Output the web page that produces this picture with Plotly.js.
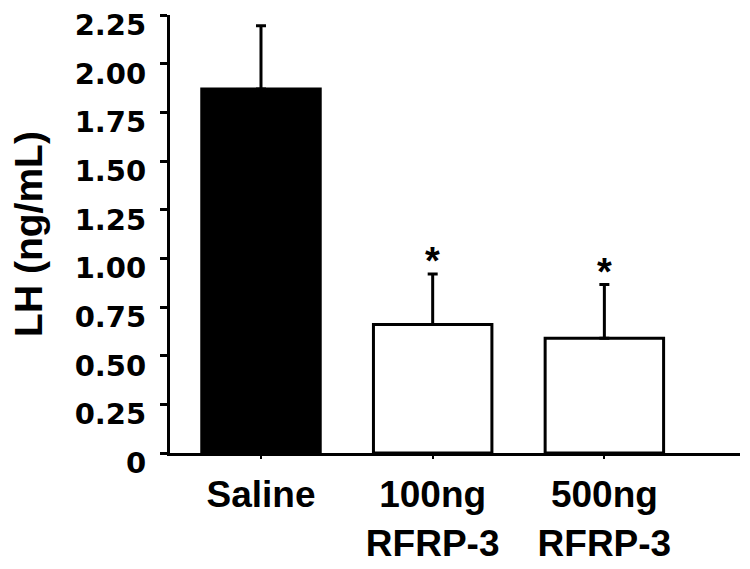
<!DOCTYPE html>
<html>
<head>
<meta charset="utf-8">
<script src="https://cdn.plot.ly/plotly-3.0.1.min.js"></script>
<style>
  body { margin: 0; background: #fff; }
  #plot { width: 750px; height: 569px; }
</style>
</head>
<body>
<div id="plot"></div>
<script>
// groups and LH values
let groups = ['Saline', '100ng<br>RFRP-3', '500ng<br>RFRP-3'];
let lhMean = [1.87, 0.66, 0.59];
let lhSem = [0.325, 0.26, 0.275];
let barColors = ['black', 'white', 'white'];
let sigMarks = ['', '*', '*']; // significance vs saline

let yTickVals = [0, 0.25, 0.5, 0.75, 1.0, 1.25, 1.5, 1.75, 2.0, 2.25];
let yTickText = ['0', '0.25', '0.50', '0.75', '1.00', '1.25', '1.50', '1.75', '2.00', '2.25'];

let bars = {
    x: groups,
    y: lhMean,
    type: 'bar',
    marker: {color: barColors, line: {color: 'black', width: 3}},
    error_y: {
        type: 'data',
        symmetric: false,
        array: lhSem,
        arrayminus: lhSem.map(() => 0),
        color: 'black',
        thickness: 3,
        width: 5
    },
    hoverinfo: 'x+y'
};

// asterisks sit just above the error bar caps
let stars = [];
for (let i = 0; i < groups.length; i++) {
    if (!sigMarks[i]) continue;
    stars.push({
        x: groups[i],
        y: lhMean[i] + lhSem[i],
        text: sigMarks[i],
        showarrow: false,
        yanchor: 'bottom',
        yshift: -10,
        font: {family: 'Liberation Sans', size: 38, color: 'black', weight: 'bold'}
    });
}

let layout = {
    width: 750,
    height: 569,
    margin: {l: 170, r: 10, t: 15, b: 116},
    paper_bgcolor: 'white',
    plot_bgcolor: 'white',
    showlegend: false,
    bargap: 0.31,
    font: {family: 'Liberation Sans', color: 'black'},
    xaxis: {
        type: 'category',
        range: [-0.53, 2.79],
        showline: true,
        linecolor: 'black',
        linewidth: 3,
        ticks: 'outside',
        ticklen: 3,
        tickwidth: 2,
        tickcolor: 'black',
        showgrid: false,
        zeroline: false,
        ticklabelstandoff: 4,
        tickfont: {family: 'Liberation Sans', size: 37, color: 'black', weight: 'bold'}
    },
    yaxis: {
        range: [0, 2.25],
        tickvals: yTickVals,
        ticktext: yTickText,
        ticklabeloverflow: 'allow',
        ticklabelshift: 10,
        showline: true,
        linecolor: 'black',
        linewidth: 3,
        ticks: 'outside',
        ticklen: 7,
        tickwidth: 3,
        tickcolor: 'black',
        showgrid: false,
        zeroline: false,
        ticklabelstandoff: 8,
        tickfont: {family: 'DejaVu Sans', size: 29, color: 'black', weight: 'bold'},
        title: {
            text: 'LH (ng/mL)',
            standoff: 20,
            font: {family: 'Liberation Sans', size: 39, color: 'black', weight: 'bold'}
        }
    },
    annotations: stars
};

Plotly.newPlot('plot', [bars], layout, {displayModeBar: false, staticPlot: true});
</script>
</body>
</html>
